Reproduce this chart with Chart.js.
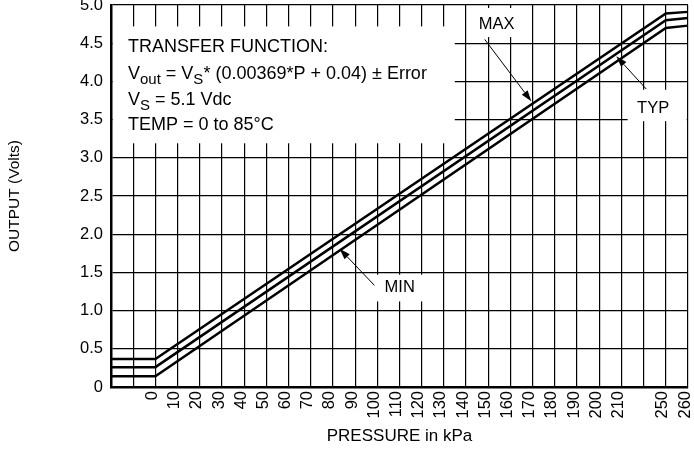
<!DOCTYPE html>
<html>
<head>
<meta charset="utf-8">
<script src="https://cdn.jsdelivr.net/npm/chart.js@4.4.0/dist/chart.umd.min.js"></script>
<style>
  html, body { margin: 0; padding: 0; background: #fff; }
  canvas { display: block; }
</style>
</head>
<body>
<canvas id="out-chart" width="694" height="451"></canvas>
<script>
// Output vs pressure, three curves (MIN / TYP / MAX).
// x is the axis position in kPa; the axis is broken after 210 (230 -> "250", 240 -> "260").
const xPositions = [-20, 0, 230, 240];
const minVolts = [0.14, 0.14, 4.70, 4.73];
const typVolts = [0.26, 0.26, 4.80, 4.83];
const maxVolts = [0.365, 0.365, 4.89, 4.91];

const tickPositions = [0, 10, 20, 30, 40, 50, 60, 70, 80, 90, 100, 110, 120, 130, 140, 150, 160, 170, 180, 190, 200, 210, 230, 240];
const tickLabels = ['0', '10', '20', '30', '40', '50', '60', '70', '80', '90', '100', '110', '120', '130', '140', '150', '160', '170', '180', '190', '200', '210', '250', '260'];
const yTickLabels = ['0', '0.5', '1.0', '1.5', '2.0', '2.5', '3.0', '3.5', '4.0', '4.5', '5.0'];

// callouts: label centre, white box, arrow start, arrow tip (data units)
const callouts = [
  { text: 'MAX', x: 153.8, y: 4.74, box: [144, 4.96, 162, 4.58], from: [148.4, 4.55], tip: [169.4, 3.74] },
  { text: 'TYP', x: 224.3, y: 3.64, box: [212.8, 3.89, 239.4, 3.48], from: [221.2, 3.90], tip: [207.7, 4.33] },
  { text: 'MIN', x: 110.1, y: 1.30, box: [97.9, 1.47, 122.7, 1.12], from: [98.7, 1.33], tip: [83.0, 1.81] },
];
const noteBox = [-19.1, 4.72, 134.9, 3.19];

const FONT = "'Liberation Sans', Arial, Helvetica, sans-serif";
const pts = vals => xPositions.map((x, i) => ({ x, y: vals[i] }));
const lineSet = (label, vals) => ({
  label, data: pts(vals), borderColor: '#000', borderWidth: 2.5,
  pointRadius: 0, tension: 0, fill: false, clip: false,
});

function arrow(ctx, x1, y1, x2, y2) {
  const a = Math.atan2(y2 - y1, x2 - x1), len = 11, hw = 3.6;
  ctx.strokeStyle = '#000'; ctx.fillStyle = '#000'; ctx.lineWidth = 1;
  ctx.beginPath(); ctx.moveTo(x1, y1); ctx.lineTo(x2 - len * Math.cos(a), y2 - len * Math.sin(a)); ctx.stroke();
  ctx.beginPath();
  ctx.moveTo(x2, y2);
  ctx.lineTo(x2 - len * Math.cos(a) + hw * Math.sin(a), y2 - len * Math.sin(a) - hw * Math.cos(a));
  ctx.lineTo(x2 - len * Math.cos(a) - hw * Math.sin(a), y2 - len * Math.sin(a) + hw * Math.cos(a));
  ctx.closePath(); ctx.fill();
}

// draws text runs [text, sub?] left to right
function runs(ctx, x, y, parts) {
  parts.forEach(([t, sub]) => {
    ctx.font = (sub ? '15px ' : '18px ') + FONT;
    ctx.fillText(t, x, y + (sub ? 5 : 0));
    x += ctx.measureText(t).width;
  });
}

const notes = {
  id: 'notes',
  beforeDatasetsDraw(chart) {
    const { ctx, scales: { x, y } } = chart;
    ctx.save();
    ctx.fillStyle = '#fff';
    [noteBox, ...callouts.map(c => c.box)].forEach(b => {
      const l = x.getPixelForValue(b[0]), t = y.getPixelForValue(b[1]);
      ctx.fillRect(l, t, x.getPixelForValue(b[2]) - l, y.getPixelForValue(b[3]) - t);
    });
    ctx.restore();
  },
  afterDatasetsDraw(chart) {
    const { ctx, scales: { x, y } } = chart;
    ctx.save();
    ctx.fillStyle = '#000';
    ctx.textBaseline = 'alphabetic';
    ctx.textAlign = 'left';
    const bx = x.getPixelForValue(noteBox[0]) + 15, by = y.getPixelForValue(noteBox[1]);
    runs(ctx, bx, by + 26, [['TRANSFER FUNCTION:']]);
    runs(ctx, bx, by + 53, [['V'], ['out', 1], [' = V'], ['S', 1], ['* (0.00369*P + 0.04) \u00b1 Error']]);
    runs(ctx, bx, by + 79, [['V'], ['S', 1], [' = 5.1 Vdc']]);
    runs(ctx, bx, by + 104, [['TEMP = 0 to 85\u00b0C']]);

    ctx.font = '16.5px ' + FONT;
    ctx.textAlign = 'center';
    ctx.textBaseline = 'middle';
    callouts.forEach(c => {
      ctx.fillText(c.text, x.getPixelForValue(c.x), y.getPixelForValue(c.y));
      arrow(ctx, x.getPixelForValue(c.from[0]), y.getPixelForValue(c.from[1]),
        x.getPixelForValue(c.tip[0]), y.getPixelForValue(c.tip[1]));
    });
    // axis break marker between 210 and 250
    const ay = x.bottom + 19;
    arrow(ctx, x.getPixelForValue(221.5), ay, x.getPixelForValue(210.8), ay);
    ctx.restore();
  },
};

new Chart(document.getElementById('out-chart'), {
  type: 'line',
  data: {
    datasets: [lineSet('MIN', minVolts), lineSet('TYP', typVolts), lineSet('MAX', maxVolts)],
  },
  options: {
    responsive: false, animation: false,
    layout: { padding: { top: 5, right: 6, left: 0, bottom: 0 } },
    plugins: { legend: { display: false }, tooltip: { enabled: false } },
    scales: {
      x: {
        type: 'linear', min: -20, max: 240,
        afterFit: s => { s.height = 64; s.paddingLeft = 0; s.paddingRight = 0; },
        border: { display: true, color: '#000', width: 2.5 },
        grid: { color: '#000', lineWidth: 1.2, drawTicks: false },
        ticks: {
          stepSize: 10, autoSkip: false, minRotation: 90, maxRotation: 90, padding: 4, labelOffset: -3,
          color: '#000', font: { family: FONT, size: 16.5 },
          callback: v => { const i = tickPositions.indexOf(v); return i >= 0 ? tickLabels[i] : ''; },
        },
        title: { display: true, text: 'PRESSURE in kPa', color: '#000', font: { family: FONT, size: 17 }, padding: { top: 0, bottom: 4 } },
      },
      y: {
        min: 0, max: 5,
        afterFit: s => { s.width = 111; s.paddingTop = 0; s.paddingBottom = 0; },
        border: { display: true, color: '#000', width: 2.5 },
        grid: { color: '#000', lineWidth: 1.2, drawTicks: false },
        ticks: {
          stepSize: 0.5, padding: 8, color: '#000', font: { family: FONT, size: 16.5 },
          callback: (v, i) => yTickLabels[i],
        },
        title: { display: true, text: 'OUTPUT (Volts)', color: '#000', font: { family: FONT, size: 15.5 }, padding: { top: 5, bottom: 0 } },
      },
    },
  },
  plugins: [notes],
});
</script>
</body>
</html>
